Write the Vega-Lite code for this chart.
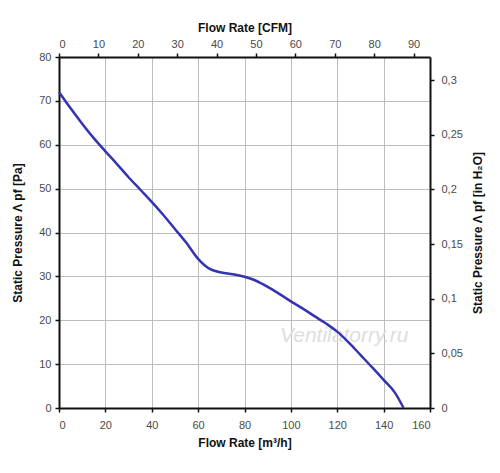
{
  "$schema": "https://vega.github.io/schema/vega-lite/v6.json",
  "autosize": "none",
  "width": 371,
  "height": 351,
  "padding": {"left": 59, "top": 57, "right": 70, "bottom": 65},
  "background": "white",
  "config": {
    "font": "Liberation Sans",
    "view": {"stroke": null},
    "axis": {
      "labelFont": "Liberation Sans",
      "titleFont": "Liberation Sans",
      "labelFontSize": 11,
      "labelColor": "#4a4a4a",
      "titleFontSize": 12,
      "titleFontWeight": "bold",
      "titleColor": "#111111",
      "domainColor": "#111111",
      "domainWidth": 2,
      "tickColor": "#111111",
      "tickWidth": 1.5,
      "tickSize": 4,
      "gridColor": "#bdbdbd",
      "gridWidth": 1,
      "gridOpacity": 1
    }
  },
  "datasets": {
    "curve": [
      {"flow": 0, "pa": 72},
      {"flow": 5, "pa": 68.3},
      {"flow": 10, "pa": 64.8},
      {"flow": 15, "pa": 61.5},
      {"flow": 20, "pa": 58.5},
      {"flow": 25, "pa": 55.6},
      {"flow": 30, "pa": 52.6},
      {"flow": 35, "pa": 49.8},
      {"flow": 40, "pa": 47},
      {"flow": 45, "pa": 44},
      {"flow": 50, "pa": 40.8},
      {"flow": 55, "pa": 37.6},
      {"flow": 60, "pa": 34},
      {"flow": 65, "pa": 31.7},
      {"flow": 70, "pa": 30.9},
      {"flow": 75, "pa": 30.5},
      {"flow": 80, "pa": 29.9},
      {"flow": 85, "pa": 29},
      {"flow": 90, "pa": 27.6},
      {"flow": 95, "pa": 26},
      {"flow": 100, "pa": 24.3},
      {"flow": 105, "pa": 22.7},
      {"flow": 110, "pa": 21},
      {"flow": 115, "pa": 19.3},
      {"flow": 120, "pa": 17.4},
      {"flow": 125, "pa": 14.9},
      {"flow": 130, "pa": 12.1},
      {"flow": 135, "pa": 9.3},
      {"flow": 140, "pa": 6.4},
      {"flow": 145, "pa": 3.4},
      {"flow": 148.6, "pa": 0}
    ],
    "extent": [
      {"cfm": 0, "inh2o": 0},
      {"cfm": 94.17, "inh2o": 0.3212}
    ],
    "mark": [
      {"flow": 123, "pa": 16.5, "txt": "Ventilatorry.ru"}
    ]
  },
  "layer": [
    {
      "layer": [
        {
          "data": {"name": "mark"},
          "mark": {"type": "text", "fontSize": 21, "fontStyle": "italic", "font": "Liberation Sans", "color": "#dedede"},
          "encoding": {
            "x": {"field": "flow", "type": "quantitative"},
            "y": {"field": "pa", "type": "quantitative"},
            "text": {"field": "txt"}
          }
        },
        {
          "data": {"name": "curve"},
          "mark": {"type": "line", "color": "#3434b2", "strokeWidth": 2.5, "interpolate": "monotone"},
          "encoding": {
            "x": {
              "field": "flow", "type": "quantitative",
              "scale": {"domain": [0, 160], "nice": false},
              "axis": {"orient": "bottom", "values": [0,20,40,60,80,100,120,140,160], "title": "Flow Rate [m³/h]", "titlePadding": 7, "labelPadding": 7}
            },
            "y": {
              "field": "pa", "type": "quantitative",
              "scale": {"domain": [0, 80], "nice": false},
              "axis": {"orient": "left", "values": [0,10,20,30,40,50,60,70,80], "title": "Static Pressure Λ pf [Pa]", "titlePadding": 14, "labelPadding": 4}
            }
          }
        }
      ]
    },
    {
      "data": {"name": "extent"},
      "mark": {"type": "point", "opacity": 0},
      "encoding": {
        "x": {
          "field": "cfm", "type": "quantitative",
          "scale": {"domain": [0, 94.17], "nice": false},
          "axis": {"orient": "top", "values": [0,10,20,30,40,50,60,70,80,90], "grid": false, "title": "Flow Rate [CFM]", "titlePadding": 4, "labelPadding": 4}
        },
        "y": {
          "field": "inh2o", "type": "quantitative",
          "scale": {"domain": [0, 0.3212], "nice": false},
          "axis": {"orient": "right", "values": [0,0.05,0.1,0.15,0.2,0.25,0.3], "grid": false, "labelExpr": "replace(format(datum.value, '.2~f'), '.', ',')", "title": "Static Pressure Λ pf [in H₂O]", "titleAngle": 270, "titleBaseline": "bottom", "titlePadding": 22, "labelPadding": 7}
        }
      }
    }
  ],
  "resolve": {"scale": {"x": "independent", "y": "independent"}}
}
